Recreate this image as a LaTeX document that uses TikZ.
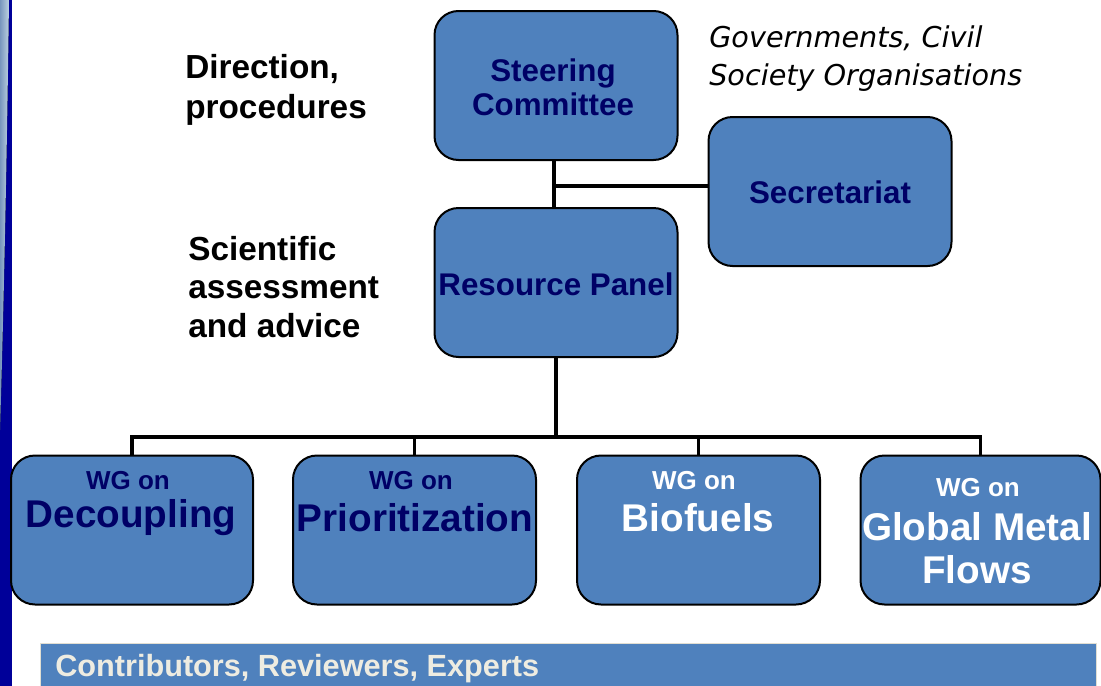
\documentclass[tikz,border=0pt]{standalone}
\usepackage{fontspec}
\setmainfont{Liberation Sans}
\newfontfamily\italfont{DejaVu Sans}
\definecolor{boxblue}{RGB}{79,129,189}
\definecolor{navy}{RGB}{0,0,102}
\definecolor{stripblue}{RGB}{0,0,153}
\definecolor{cream}{RGB}{238,236,225}
\definecolor{barborder}{RGB}{225,222,210}
\begin{document}
\begin{tikzpicture}[x=0.75pt,y=-0.75pt,
  box/.style={draw=black,line width=1.5pt,fill=boxblue,rounded corners=18pt,
    minimum width=#1*0.75pt,minimum height=149*0.75pt,inner sep=0pt},
  box/.default=243,
  conn/.style={line width=2.6pt,black},
  side/.style={font=\bfseries\fontsize{25}{29.5}\selectfont,align=left,anchor=west,inner sep=0pt},
  ttl/.style={font=\bfseries\fontsize{23.5}{25.5}\selectfont,text=navy,align=center,inner sep=0pt},
  wgon/.style={font=\bfseries\fontsize{19.5}{22}\selectfont,inner sep=0pt},
  wgname/.style={font=\bfseries\fontsize{29}{32}\selectfont,inner sep=0pt,align=center}]
\useasboundingbox (0,0) rectangle (1101,686);
\fill[white] (0,0) rectangle (1101,686);
% left strip
\fill[stripblue] (0,0) rectangle (12,686);
\fill[left color={rgb,255:red,120;green,150;blue,190},right color={rgb,255:red,190;green,210;blue,225}]
  (0,0) -- (9,0) .. controls (7,150) and (4,300) .. (0,430) -- cycle;
% boxes
\node[box] (sc) at (556,85.5) {};
\node[box] (sec) at (830,191.5) {};
\node[box] (rp) at (556,282.5) {};
\node[box=242] (dec) at (132,530) {};
\node[box] (prio) at (414.5,530) {};
\node[box] (bio) at (698.5,530) {};
\node[box=240] (gmf) at (980.5,530) {};
% texts in upper boxes
\node[ttl] (sct) at (553,87) {Steering\\Committee};
\node[ttl] (sect) at (830,192) {Secretariat};
\node[ttl] (rpt) at (556,284) {Resource Panel};
% WG texts
\node[wgon,text=navy] (d1) at (128,481) {WG on};
\node[wgname,text=navy] (d2) at (131,518) {Decoupling};
\node[wgon,text=navy] (p1) at (411,481) {WG on};
\node[wgname,text=navy] (p2) at (415,518) {Prioritization};
\node[wgon,text=white] (b1) at (694,481) {WG on};
\node[wgname,text=white] (b2) at (698,518) {Biofuels};
\node[wgon,text=white] (g1) at (978,488) {WG on};
\node[wgname,text=white] (g2) at (977,548) {Global Metal\\Flows};
% side labels
\node[side] (dir) at (185,90) {Direction,\\procedures};
\node[side,font=\bfseries\fontsize{25}{29}\selectfont] (sci) at (188,287) {Scientific\\assessment\\and advice};
\node[anchor=west,inner sep=0pt,align=left,font=\italfont\itshape\fontsize{21.5}{28.5}\selectfont] (gov) at (709,59) {Governments, Civil\\Society Organisations};
% connectors
\coordinate (j1) at (554,186);
\coordinate (bus) at (556,437);
\draw[conn] (sc.south -| j1) -- (rp.north -| j1);
\draw[conn] (j1) -- (j1 -| sec.west);
\draw[conn] (rp.south) -- (bus);
\draw[conn] (dec.north) -- (dec.north |- bus) -- (gmf.north |- bus) -- (gmf.north);
\draw[conn] (prio.north |- bus) -- (prio.north);
\draw[conn] (bio.north |- bus) -- (bio.north);
% bottom bar
\node[draw=barborder,line width=1pt,fill=boxblue,minimum width=1056*0.75pt,minimum height=46*0.75pt,anchor=north west,inner sep=0pt] (bar) at (40,643) {};
\node[anchor=west,inner sep=0pt,text=cream,font=\bfseries\fontsize{23}{26}\selectfont] (bart) at (55,669) {Contributors, Reviewers, Experts};
\end{tikzpicture}
\end{document}
